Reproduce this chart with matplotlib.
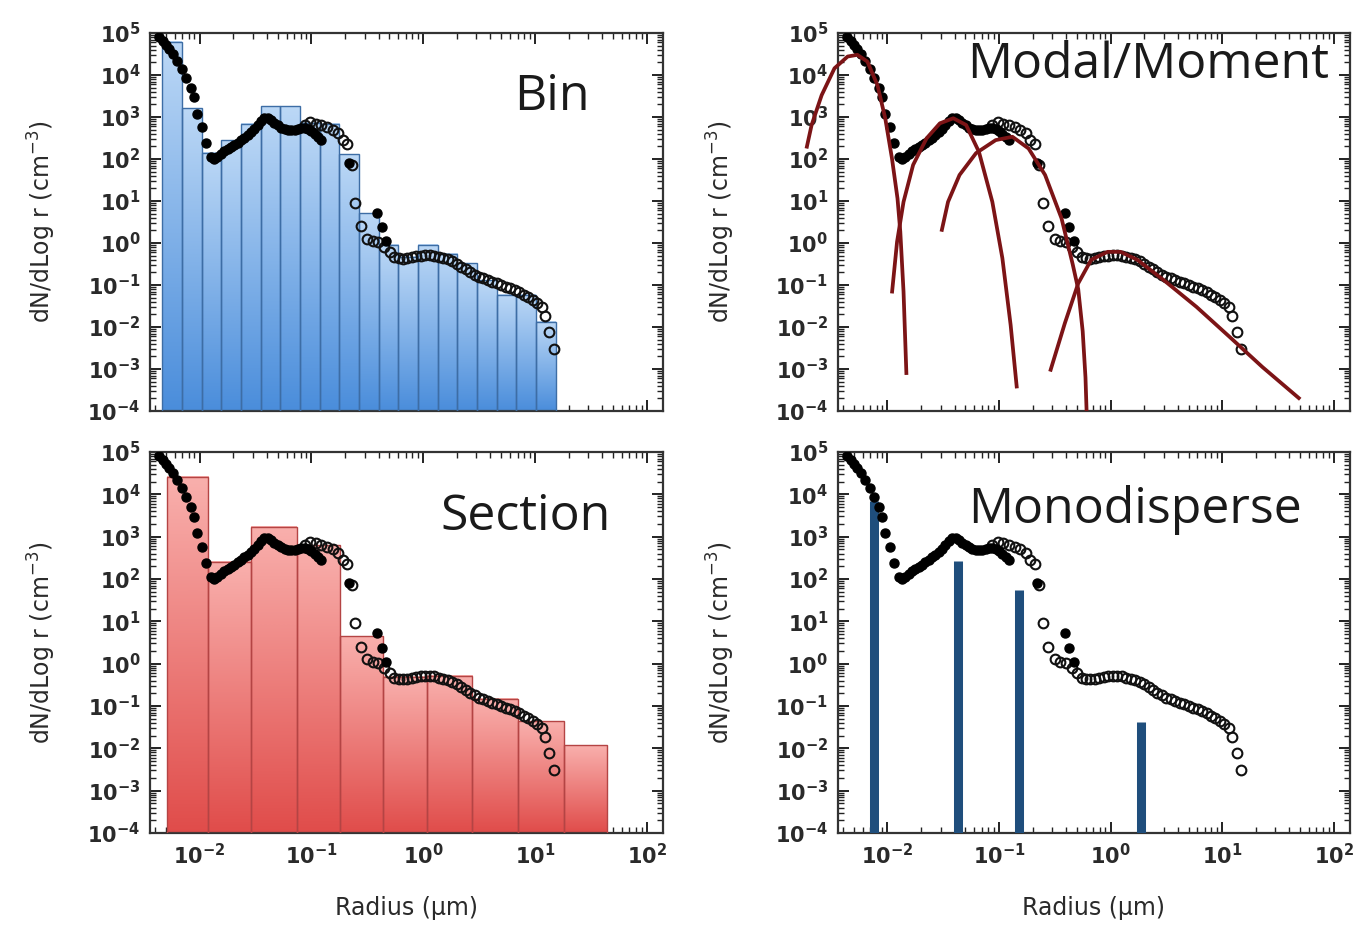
import numpy as np
import matplotlib
matplotlib.use("Agg")
import matplotlib.pyplot as plt
from matplotlib.colors import LinearSegmentedColormap
from matplotlib.image import AxesImage
from matplotlib.ticker import LogLocator, NullFormatter

# ---- data (radius in um, dN/dlog r in cm^-3) ----
bin_edges = [0.0046, 0.0069, 0.0104, 0.0156, 0.0234, 0.0351, 0.0527, 0.079, 0.119, 0.178,
             0.267, 0.40, 0.60, 0.90, 1.35, 2.03, 3.04, 4.56, 6.84, 10.3, 15.4]
bin_values = [6.2e4, 1.6e3, 140, 280, 700, 1.8e3, 1.8e3, 720, 700, 130,
              5.1, 0.9, 0.47, 0.9, 0.56, 0.33, 0.13, 0.058, 0.058, 0.0135]

section_edges = [0.00507, 0.0118, 0.0289, 0.0738, 0.179, 0.442, 1.08, 2.76, 7.03, 18.1, 44.1]
section_values = [2.6e4, 257, 1.7e3, 630, 4.5, 0.49, 0.52, 0.15, 0.044, 0.0117]

mono_radius = [0.0076, 0.0425, 0.152, 1.86]
mono_values = [6.8e3, 270, 56, 0.042]

# measured distribution, log10 coordinates (filled dots)
filled_lx = [-2.36, -2.33, -2.30, -2.27, -2.24, -2.20, -2.16, -2.12, -2.08, -2.05, -2.02, -1.98,
             -1.94, -1.90, -1.87, -1.84, -1.81, -1.78, -1.75, -1.72, -1.69, -1.66, -1.63, -1.60,
             -1.57, -1.54, -1.51, -1.48, -1.45, -1.42, -1.39, -1.36, -1.33, -1.30, -1.27, -1.24,
             -1.21, -1.18, -1.15, -1.12, -1.09, -1.06, -1.03, -1.00, -0.97, -0.94, -0.91,
             -0.66, -0.41, -0.37, -0.33]
filled_ly = [4.90, 4.80, 4.72, 4.62, 4.50, 4.34, 4.15, 3.94, 3.70, 3.47, 3.08, 2.76,
             2.37, 2.05, 2.00, 2.04, 2.12, 2.18, 2.23, 2.28, 2.33, 2.39, 2.45, 2.51,
             2.57, 2.64, 2.72, 2.81, 2.90, 2.98, 2.97, 2.92, 2.86, 2.80, 2.75, 2.71,
             2.69, 2.68, 2.69, 2.71, 2.73, 2.74, 2.71, 2.66, 2.60, 2.53, 2.45,
             1.90, 0.72, 0.38, 0.05]
# open circles
open_lx = [-1.06, -1.01, -0.96, -0.91, -0.86, -0.81, -0.76, -0.72, -0.68, -0.64, -0.61, -0.56,
           -0.50, -0.45, -0.40, -0.35, -0.30, -0.26, -0.22, -0.18, -0.14, -0.10, -0.06, -0.02,
           0.02, 0.06, 0.10, 0.14, 0.18, 0.22, 0.26, 0.30, 0.34, 0.38, 0.42, 0.46, 0.50, 0.54,
           0.58, 0.62, 0.66, 0.70, 0.74, 0.78, 0.82, 0.86, 0.90, 0.94, 0.98, 1.02, 1.06, 1.09,
           1.13, 1.17]
open_ly = [2.80, 2.88, 2.84, 2.80, 2.76, 2.70, 2.62, 2.45, 2.35, 1.85, 0.95, 0.40,
           0.10, 0.05, 0.02, -0.10, -0.22, -0.33, -0.36, -0.37, -0.36, -0.34, -0.31, -0.30,
           -0.29, -0.29, -0.30, -0.33, -0.36, -0.39, -0.43, -0.49, -0.56, -0.63, -0.70, -0.75,
           -0.80, -0.84, -0.88, -0.92, -0.96, -1.00, -1.04, -1.08, -1.12, -1.17, -1.23, -1.29,
           -1.35, -1.42, -1.52, -1.73, -2.12, -2.52]

# fitted modes (log10 r, log10 N)
mode1_lx = [-2.726, -2.68, -2.59, -2.475, -2.357, -2.27, -2.18, -2.09, -2.02, -1.96, -1.91, -1.885, -1.856, -1.83]
mode1_ly = [2.25, 2.81, 3.52, 4.16, 4.44, 4.48, 4.32, 3.76, 2.97, 2.02, 1.06, 0.27, -1.16, -3.14]
mode2_lx = [-1.96, -1.914, -1.856, -1.77, -1.65, -1.53, -1.41, -1.295, -1.18, -1.06, -0.97, -0.896, -0.84]
mode2_ly = [-1.20, 0.03, 0.98, 1.86, 2.49, 2.85, 2.97, 2.81, 2.17, 0.98, -0.36, -1.95, -3.46]
mode3_lx = [-1.516, -1.457, -1.354, -1.206, -1.03, -0.88, -0.735, -0.587, -0.44, -0.34, -0.29, -0.25, -0.225, -0.215]
mode3_ly = [0.27, 0.98, 1.62, 2.14, 2.45, 2.53, 2.25, 1.62, 0.59, -0.5, -1.1, -2.1, -3.2, -4.0]
mode4_lx = [-0.542, -0.41, -0.29, -0.174, -0.027, 0.09, 0.24, 0.475, 0.77, 1.065, 1.36, 1.70]
mode4_ly = [-3.06, -1.91, -0.96, -0.40, -0.21, -0.21, -0.40, -0.88, -1.52, -2.23, -2.95, -3.72]

XLIM = (3.6e-3, 1.4e2)
YLIM = (1e-4, 1e5)
X_DECADES = [1e-2, 1e-1, 1e0, 1e1, 1e2]
Y_DECADES = [1e-4, 1e-3, 1e-2, 1e-1, 1e0, 1e1, 1e2, 1e3, 1e4, 1e5]
INK = "#2a2a2a"

plt.rcParams["font.family"] = ["DejaVu Sans"]
plt.rcParams["mathtext.fontset"] = "dejavusans"

fig = plt.figure(figsize=(13.65, 9.27), dpi=100)
ax_bin = fig.add_axes([0.1099, 0.5566, 0.3758, 0.4078])
ax_mod = fig.add_axes([0.6139, 0.5566, 0.3751, 0.4078])
ax_sec = fig.add_axes([0.1099, 0.1014, 0.3758, 0.4110])
ax_mono = fig.add_axes([0.6139, 0.1014, 0.3751, 0.4110])


def style_axes(ax, bottom_labels, ylab_x):
    ax.set_xscale("log")
    ax.set_yscale("log")
    ax.set_xlim(*XLIM)
    ax.set_ylim(*YLIM)
    ax.set_autoscale_on(False)
    # only the decades inside the view get a label
    ax.set_xticks(X_DECADES)
    ax.set_yticks(Y_DECADES)
    for ax_ in (ax.xaxis, ax.yaxis):
        ax_.set_minor_locator(LogLocator(base=10, subs=np.arange(2, 10), numticks=20))
        ax_.set_minor_formatter(NullFormatter())
    ax.tick_params(which="both", direction="in", top=True, right=True, colors="#222222",
                   labelsize=15, labelcolor=INK)
    ax.tick_params(which="major", length=8, width=1.4, pad=7)
    ax.tick_params(which="minor", length=4, width=1.0)
    for lbl in ax.get_xticklabels() + ax.get_yticklabels():
        lbl.set_fontweight("bold")
    for s in ax.spines.values():
        s.set_linewidth(1.6)
        s.set_color("#333333")
    ax.set_ylabel(r"dN/dLog r (cm$^{-3}$)", fontsize=17, color=INK)
    ax.yaxis.set_label_coords(ylab_x, 0.5)
    if bottom_labels:
        ax.set_xlabel(u"Radius (\u00b5m)", fontsize=17, color=INK)
        ax.xaxis.set_label_coords(0.5, -0.165)
    else:
        ax.tick_params(axis="x", labelbottom=False)


def gradient_bars(ax, edges, values, top_color, bottom_color, edge_color):
    edges = np.asarray(edges)
    widths = np.diff(edges)
    heights = np.asarray(values) - YLIM[0]
    bars = ax.bar(edges[:-1], heights, width=widths, bottom=YLIM[0], align="edge",
                  facecolor="none", edgecolor=edge_color, linewidth=1.0, zorder=3)
    cmap = LinearSegmentedColormap.from_list("g", [bottom_color, top_color])
    grad = np.linspace(0, 1, 256).reshape(-1, 1)
    to_axes = ax.transData + ax.transAxes.inverted()
    for p in bars.patches:
        bb = p.get_bbox()
        (x0, y0), (x1, y1) = to_axes.transform([(bb.x0, bb.y0), (bb.x1, bb.y1)])
        im = AxesImage(ax, cmap=cmap, origin="lower", extent=(x0, x1, y0, y1),
                       transform=ax.transAxes, interpolation="bilinear")
        im.set_data(grad)
        im.set_zorder(2)
        ax.add_image(im)


def measured(ax):
    ax.plot(np.power(10.0, open_lx), np.power(10.0, open_ly), "o", ms=7, mfc="none",
            mec="#111111", mew=1.5, zorder=5)
    ax.plot(np.power(10.0, filled_lx), np.power(10.0, filled_ly), "o", ms=6.5, color="#000000",
            zorder=6)


style_axes(ax_bin, False, -0.18)
style_axes(ax_mod, False, -0.197)
style_axes(ax_sec, True, -0.18)
style_axes(ax_mono, True, -0.197)

# Bin
gradient_bars(ax_bin, bin_edges, bin_values, "#bcd8f6", "#4a8ddb", "#3d6da5")
measured(ax_bin)

# Section
gradient_bars(ax_sec, section_edges, section_values, "#f9b0ad", "#e04c4a", "#b44444")
measured(ax_sec)

# Modal / Moment
measured(ax_mod)
for lx, ly in ((mode1_lx, mode1_ly), (mode2_lx, mode2_ly), (mode3_lx, mode3_ly), (mode4_lx, mode4_ly)):
    ln, = ax_mod.plot(np.power(10.0, lx), np.power(10.0, ly), color="#7c1416", lw=2.7,
                      solid_capstyle="butt", zorder=7)
    ln.set_clip_on(False)

# Monodisperse
vl = ax_mono.vlines(mono_radius, YLIM[0], mono_values, colors="#1f4e7c", linewidth=6.5, zorder=3)
vl.set_capstyle("butt")
measured(ax_mono)

title_kw = dict(fontsize=36, family=["Open Sans", "DejaVu Sans"], color="#1a1a1a",
                ha="center", va="center", zorder=10)
ax_bin.text(0.784, 0.831, "Bin", transform=ax_bin.transAxes, **title_kw)
ax_mod.text(0.605, 0.915, "Modal/Moment", transform=ax_mod.transAxes, **title_kw)
ax_sec.text(0.733, 0.829, "Section", transform=ax_sec.transAxes, **title_kw)
ax_mono.text(0.58, 0.848, "Monodisperse", transform=ax_mono.transAxes, **title_kw)

fig.savefig("out.png", dpi=100)
